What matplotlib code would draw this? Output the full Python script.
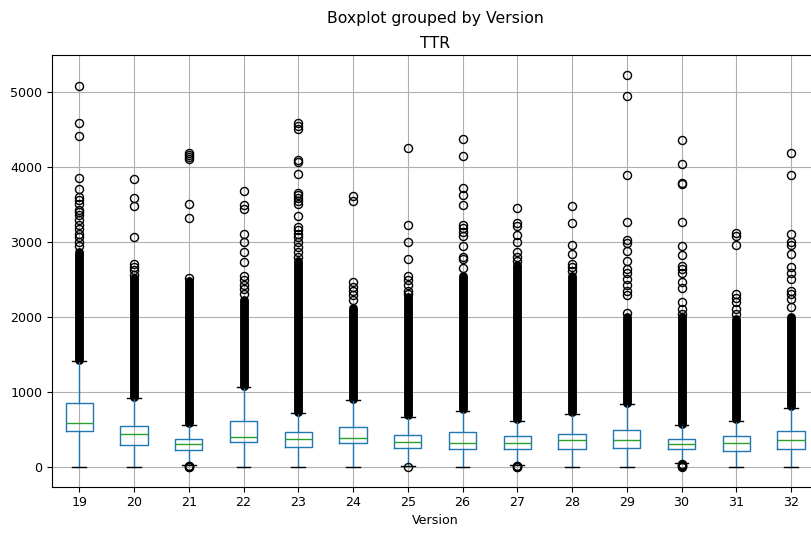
import matplotlib
matplotlib.use('Agg')
import matplotlib.pyplot as plt

versions = ['19', '20', '21', '22', '23', '24', '25', '26', '27', '28', '29', '30', '31', '32']

q1 = [480, 298, 232, 333, 263, 315, 249, 245, 245, 245, 258, 245, 213, 245]
med = [587, 445, 303, 405, 369, 387, 338, 320, 320, 356, 356, 311, 320, 356]
q3 = [853, 547, 373, 618, 462, 533, 427, 462, 409, 445, 498, 373, 409, 480]
whis_lo = [0, 0, 25, 0, 0, 0, 8, 0, 25, 0, 0, 55, 0, 0]
whis_hi = [1413, 920, 565, 1062, 720, 889, 667, 747, 618, 711, 836, 556, 618, 787]

# outliers packed so tightly they read as a solid column: (from, to)
dense_lo = [1430, 940, 590, 1080, 740, 910, 690, 770, 640, 730, 860, 570, 640, 810]
dense_hi = [2870, 2520, 2480, 2230, 2750, 2120, 2260, 2540, 2690, 2550, 2000, 2000, 1970, 2000]

# the separate outliers that can be read one by one
fliers = [
    [2950, 3000, 3060, 3100, 3170, 3220, 3290, 3360, 3400, 3430, 3500, 3560, 3600, 3710, 3850, 4410, 4590, 5080],
    [2560, 2620, 2660, 2700, 3070, 3480, 3590, 3840],
    [0, 5, 10, 15, 2520, 3320, 3500, 4100, 4130, 4160, 4190],
    [2300, 2370, 2430, 2490, 2540, 2730, 2860, 3000, 3110, 3440, 3490, 3680],
    [2800, 2870, 2930, 3000, 3070, 3110, 3160, 3200, 3340, 3510, 3540, 3580, 3620, 3650, 3910, 4070, 4090, 4500, 4540, 4580],
    [2220, 2290, 2350, 2400, 2460, 3540, 3610],
    [0, 2310, 2350, 2420, 2490, 2550, 2770, 3000, 3230, 4250],
    [2650, 2770, 2800, 2950, 3080, 3130, 3180, 3230, 3490, 3630, 3720, 4140, 4370],
    [0, 5, 10, 15, 2750, 2800, 2870, 3000, 3090, 3210, 3250, 3450],
    [2610, 2670, 2710, 2840, 2960, 3250, 3480],
    [2050, 2290, 2350, 2420, 2500, 2580, 2640, 2750, 2880, 2990, 3020, 3270, 3890, 4950, 5230],
    [0, 10, 20, 30, 40, 2040, 2110, 2200, 2380, 2460, 2580, 2640, 2680, 2820, 2950, 3270, 3770, 3780, 4040, 4360],
    [2040, 2110, 2200, 2250, 2310, 2960, 3080, 3120],
    [2130, 2240, 2310, 2350, 2510, 2580, 2670, 2840, 2960, 3000, 3110, 3890, 4180],
]

plt.rcParams['font.family'] = 'DejaVu Sans'
plt.rcParams['font.size'] = 9.1

fig = plt.figure(figsize=(8.12, 5.33), dpi=100)
ax = fig.add_axes([0.0639, 0.0869, 0.944, 0.810])

stats = []
for i in range(len(versions)):
    stats.append({'label': versions[i], 'q1': q1[i], 'med': med[i], 'q3': q3[i],
                  'whislo': whis_lo[i], 'whishi': whis_hi[i], 'fliers': fliers[i]})

pos = list(range(1, len(versions) + 1))
ax.grid(True)
ax.vlines(pos, dense_lo, dense_hi, colors='k', linewidth=6.4, capstyle='round', zorder=2)
ax.bxp(stats, positions=pos, widths=0.5,
       boxprops=dict(color='C0'), whiskerprops=dict(color='C0'),
       medianprops=dict(color='C2'), capprops=dict(color='k'),
       flierprops=dict(marker='o', markerfacecolor='none', markeredgecolor='k', markersize=5.8))

ax.set_xlabel('Version', labelpad=3)
ax.set_title('TTR', fontsize=11.3, pad=5)
fig.suptitle('Boxplot grouped by Version', x=435 / 812, y=1 - 23.3 / 533, va='baseline', fontsize=11.3)

fig.savefig('out.png', dpi=100)
